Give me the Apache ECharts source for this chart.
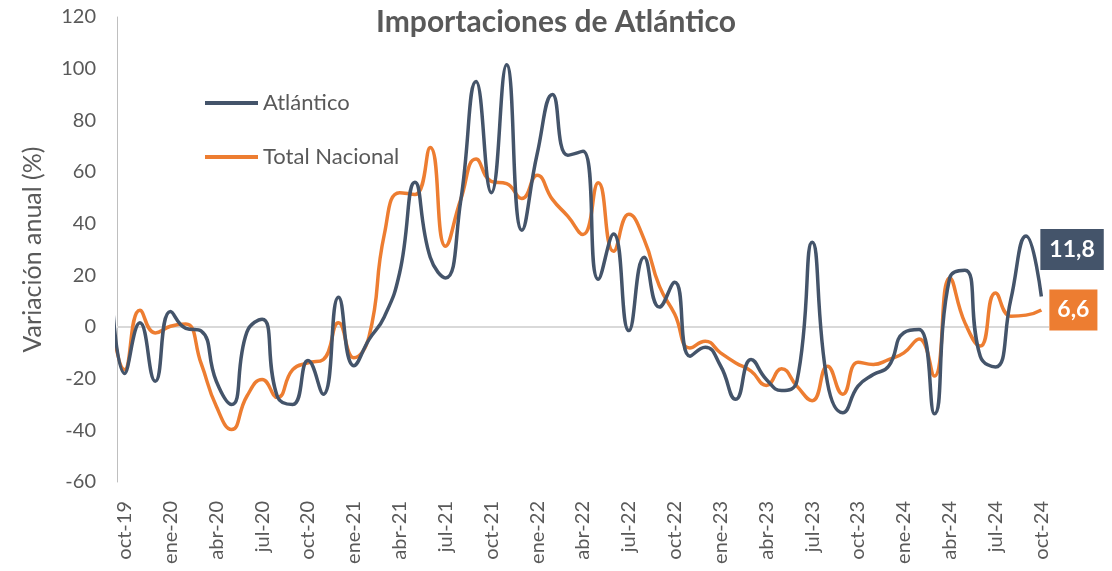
<!DOCTYPE html>
<html>
<head>
<meta charset="utf-8">
<script src="https://cdn.jsdelivr.net/npm/echarts@6/dist/echarts.min.js"></script>
<style>
  html, body { margin: 0; padding: 0; background: #ffffff; }
  #chart { width: 1112px; height: 571px; }
</style>
</head>
<body>
<div id="chart"></div>
<script>
// Meses de la serie (sep-19 queda fuera del rango visible, solo da la entrada de la curva)
const meses = [
  'sep-19', 'oct-19', 'nov-19', 'dic-19',
  'ene-20', 'feb-20', 'mar-20', 'abr-20', 'may-20', 'jun-20', 'jul-20', 'ago-20', 'sep-20', 'oct-20', 'nov-20', 'dic-20',
  'ene-21', 'feb-21', 'mar-21', 'abr-21', 'may-21', 'jun-21', 'jul-21', 'ago-21', 'sep-21', 'oct-21', 'nov-21', 'dic-21',
  'ene-22', 'feb-22', 'mar-22', 'abr-22', 'may-22', 'jun-22', 'jul-22', 'ago-22', 'sep-22', 'oct-22', 'nov-22', 'dic-22',
  'ene-23', 'feb-23', 'mar-23', 'abr-23', 'may-23', 'jun-23', 'jul-23', 'ago-23', 'sep-23', 'oct-23', 'nov-23', 'dic-23',
  'ene-24', 'feb-24', 'mar-24', 'abr-24', 'may-24', 'jun-24', 'jul-24', 'ago-24', 'sep-24', 'oct-24'
];

// Variación anual (%) de las importaciones
const atlantico = [
  30, -18, 1.6, -21,
  6, -0.5, -1.5, -21, -30, -2, 3, -27, -30, -13, -26, 11.5,
  -15, -4.8, 4, 21, 56, 27, 19, 49, 95, 52, 101.5, 37.5,
  67, 90, 66.5, 68, 18.5, 36, -1.4, 27, 7.7, 17.3, -11.3, -7.8,
  -15, -28, -12.6, -20.3, -24.6, -21, 32.8, -21.6, -33.2, -22.9, -18.4, -15.2,
  -2.2, -1, -33.6, 19, 22, -11.3, -15.5, 10.6, 35.2, 11.8
];

const totalNacional = [
  10, -16.5, 6.5, -2.3,
  0.3, 1.2, -14, -30.7, -39.7, -26.8, -20.3, -27.3, -16.5, -13.9, -12.6, 1.6,
  -11.9, -3.6, 36, 52, 51.3, 69.5, 31.3, 49.4, 65, 56.4, 55.5, 49.7,
  58.7, 49.4, 42.9, 35.8, 55.8, 29.3, 43.6, 33.9, 15.8, 5, -8.1, -5.5,
  -10, -13.9, -17.1, -22.6, -16.2, -22.9, -28.5, -15.2, -26, -13.6, -14.5, -12.6,
  -10, -4.6, -19, 19, 1.6, -7.4, 13.2, 4.2, 4.6, 6.6
];

// Etiquetas del eje horizontal (cada trimestre)
const etiquetasEje = [
  'oct-19', 'ene-20', 'abr-20', 'jul-20', 'oct-20', 'ene-21', 'abr-21', 'jul-21', 'oct-21',
  'ene-22', 'abr-22', 'jul-22', 'oct-22', 'ene-23', 'abr-23', 'jul-23', 'oct-23',
  'ene-24', 'abr-24', 'jul-24', 'oct-24'
];

const FUENTE = 'Lato';
const GRIS = '#595959';
const AZUL = '#44546A';
const NARANJA = '#ED7D31';

// posición en el eje: oct-19 = 0
const posicion = m => meses.indexOf(m) - 1;
const pares = serie => serie.map((v, i) => [i - 1, v]);
const coma = v => v.toFixed(1).replace('.', ',');

const chart = echarts.init(document.getElementById('chart'), null, { renderer: 'canvas' });

chart.setOption({
  backgroundColor: '#ffffff',
  animation: false,
  title: {
    text: 'Importaciones de Atlántico',
    left: 'center',
    top: 2,
    textStyle: { fontFamily: FUENTE, fontWeight: 'bold', fontSize: 30, color: GRIS }
  },
  legend: {
    orient: 'vertical',
    left: 200,
    top: 86,
    itemWidth: 53,
    itemHeight: 4,
    itemGap: 30,
    icon: 'rect',
    textStyle: { fontFamily: FUENTE, fontSize: 22, color: GRIS, lineHeight: 24 },
    data: ['Atlántico', 'Total Nacional']
  },
  grid: { left: 117, right: 63, top: 17, bottom: 89, containLabel: false },
  xAxis: {
    type: 'value',
    min: -0.5,
    max: 60.5,
    axisLine: { show: false },
    axisTick: { show: false },
    splitLine: { show: false },
    axisLabel: {
      customValues: etiquetasEje.map(posicion),
      formatter: v => meses[Math.round(v) + 1],
      rotate: 90,
      margin: 19,
      fontFamily: FUENTE,
      fontSize: 20,
      color: GRIS,
      hideOverlap: false
    }
  },
  yAxis: {
    type: 'value',
    min: -60,
    max: 120,
    interval: 20,
    name: 'Variación anual (%)',
    nameLocation: 'middle',
    nameGap: 72,
    nameRotate: 90,
    nameTextStyle: { fontFamily: FUENTE, fontSize: 25, color: GRIS },
    axisLine: { show: true, onZero: false, lineStyle: { color: '#BFBFBF', width: 1 } },
    axisTick: { show: false },
    splitLine: { show: false },
    axisLabel: { margin: 21, fontFamily: FUENTE, fontSize: 20, color: GRIS }
  },
  series: [
    {
      name: 'Atlántico',
      type: 'line',
      data: pares(atlantico),
      smooth: 0.5,
      showSymbol: false,
      clip: true,
      lineStyle: { color: AZUL, width: 3.5 },
      itemStyle: { color: AZUL },
      z: 3,
      markLine: {
        silent: true,
        symbol: 'none',
        label: { show: false },
        lineStyle: { color: '#D9D9D9', width: 2, type: 'solid' },
        data: [{ yAxis: 0 }],
        z: 1
      },
      endLabel: {
        show: true,
        formatter: p => coma(p.value[1]),
        distance: 0,
        offset: [-1, -47],
        backgroundColor: AZUL,
        color: '#ffffff',
        fontFamily: FUENTE,
        fontWeight: 'bold',
        fontSize: 23,
        lineHeight: 23,
        padding: [9, 9]
      }
    },
    {
      name: 'Total Nacional',
      type: 'line',
      data: pares(totalNacional),
      smooth: 0.5,
      showSymbol: false,
      clip: true,
      lineStyle: { color: NARANJA, width: 3.5 },
      itemStyle: { color: NARANJA },
      z: 2,
      endLabel: {
        show: true,
        formatter: p => coma(p.value[1]),
        distance: 8,
        offset: [0, 0],
        backgroundColor: NARANJA,
        color: '#ffffff',
        fontFamily: FUENTE,
        fontWeight: 'bold',
        fontSize: 23,
        lineHeight: 23,
        padding: [9, 8]
      }
    }
  ]
});
</script>
</body>
</html>
